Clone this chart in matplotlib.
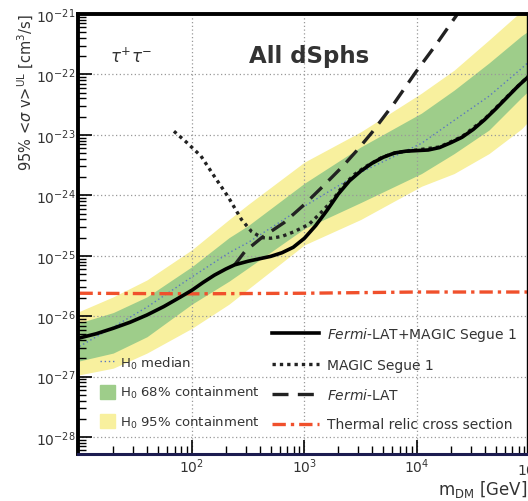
import numpy as np
import matplotlib
matplotlib.use("Agg")
import matplotlib.pyplot as plt
from matplotlib.lines import Line2D
from matplotlib.patches import Patch

plt.rcParams['font.family'] = ['DejaVu Sans']
plt.rcParams['mathtext.fontset'] = 'dejavusans'

# all values are log10(mass / GeV) and log10(<sigma v> / cm^3 s^-1)
band_m = [1.0, 1.3, 1.6, 2.0, 2.33, 2.5, 3.0, 3.5, 4.04, 4.33, 4.64, 4.93, 5.0]
median = [-26.50, -26.18, -25.85, -25.35, -24.95, -24.78, -24.18, -23.62, -23.14, -22.76, -22.36, -21.90, -21.78]
green_hi = [-26.11, -25.94, -25.68, -25.18, -24.70, -24.50, -23.80, -23.20, -22.64, -22.26, -21.81, -21.36, -21.27]
green_lo = [-26.74, -26.61, -26.34, -25.80, -25.42, -25.20, -24.55, -24.12, -23.64, -23.31, -22.92, -22.38, -22.26]
yellow_hi = [-25.92, -25.68, -25.40, -24.90, -24.40, -24.15, -23.45, -22.95, -22.31, -21.93, -21.43, -20.95, -20.85]
yellow_lo = [-26.97, -26.86, -26.61, -26.20, -25.80, -25.55, -24.82, -24.40, -23.85, -23.64, -23.31, -22.90, -22.76]

comb_m = [1.0, 1.15, 1.3, 1.45, 1.6, 1.75, 1.9, 2.0, 2.1, 2.2, 2.3, 2.38, 2.5, 2.6, 2.7, 2.8, 2.9, 3.0,
          3.1, 3.2, 3.3, 3.4, 3.5, 3.6, 3.7, 3.8, 3.9, 4.0, 4.1, 4.2, 4.3, 4.4, 4.5, 4.6, 4.7, 4.8, 4.9, 5.0]
comb_sv = [-26.36, -26.29, -26.20, -26.10, -25.98, -25.84, -25.68, -25.57, -25.44, -25.32, -25.22, -25.15,
           -25.09, -25.05, -25.01, -24.95, -24.86, -24.71, -24.50, -24.25, -23.98, -23.76, -23.60, -23.47,
           -23.37, -23.30, -23.27, -23.26, -23.25, -23.21, -23.13, -23.04, -22.91, -22.75, -22.57, -22.38,
           -22.19, -22.02]

magic_m = [1.84, 1.95, 2.08, 2.20, 2.32, 2.44, 2.53, 2.62, 2.70, 2.80, 2.91, 3.04, 3.15, 3.25, 3.34, 3.44,
           3.54, 3.69, 3.82, 4.0, 4.2, 4.4, 4.6, 4.8, 5.0]
magic_sv = [-22.94, -23.12, -23.35, -23.69, -24.02, -24.40, -24.60, -24.70, -24.71, -24.68, -24.60, -24.48,
            -24.28, -24.08, -23.85, -23.66, -23.53, -23.37, -23.29, -23.25, -23.20, -23.03, -22.74, -22.37,
            -22.01]

fermi_m = [2.38, 2.47, 2.62, 2.82, 3.0, 3.17, 3.34, 3.47, 3.60, 3.80, 3.99, 4.18, 4.36, 4.60]
fermi_sv = [-25.15, -24.93, -24.70, -24.45, -24.15, -23.84, -23.52, -23.25, -22.96, -22.47, -21.96, -21.48,
            -21.0, -20.40]

relic_m = [1.0, 2.0, 3.0, 4.0, 5.0]
relic_sv = [-25.62, -25.63, -25.62, -25.60, -25.60]

x_ticks = [1e2, 1e3, 1e4]
y_ticks = [10.0 ** k for k in range(-28, -20)]

def p(a):
    return 10 ** np.array(a)

fig = plt.figure(figsize=(5.28, 5.02), dpi=100)
ax = fig.add_axes([78 / 528, 47 / 502, 449 / 528, 440 / 502])

ax.fill_between(p(band_m), p(yellow_lo), p(yellow_hi), color='#f8f09e', lw=0)
ax.fill_between(p(band_m), p(green_lo), p(green_hi), color='#9ecd8a', lw=0)
ax.plot(p(band_m), p(median), color='#5b76c0', lw=1.0, ls=(0, (1, 2)))
ax.plot(p(relic_m), p(relic_sv), color='#f0502c', lw=2.4, ls=(0, (4, 1.5, 1, 1.5)))
ax.plot(p(magic_m), p(magic_sv), color='#222222', lw=2.4, ls=(0, (1, 1.2)))
ax.plot(p(fermi_m), p(fermi_sv), color='#222222', lw=2.4, ls=(0, (4.8, 2.8)))
ax.plot(p(comb_m), p(comb_sv), color='black', lw=2.6)

ax.set_xscale('log')
ax.set_yscale('log')
ax.set_xlim(10 ** 0.987, 10 ** 4.978)
ax.set_ylim(10 ** -28.28, 1e-21)
ax.set_xticks(x_ticks)
ax.set_yticks(y_ticks)

ax.grid(True, which='major', color='#999999', lw=0.9, ls=(0, (1, 2)))
ax.tick_params(which='both', direction='in', top=False, right=False, labelsize=10, labelcolor='#333333')
ax.tick_params(which='major', length=10, width=1.2)
ax.tick_params(which='minor', length=6, width=1.0)
ax.tick_params(axis='x', pad=2)
ax.tick_params(axis='y', pad=2)
# the 10^5 label sits just past the right edge, half cut off
ax.text(1e5, -0.012, r'$\mathdefault{10^{5}}$', transform=ax.get_xaxis_transform(), fontsize=10,
        color='#333333', ha='center', va='top', clip_on=False)

ax.spines['left'].set_linewidth(2.8)
ax.spines['top'].set_linewidth(2.8)
ax.spines['bottom'].set_linewidth(2.2)
ax.spines['bottom'].set_color('#1c1c50')
ax.spines['right'].set_linewidth(1.0)

ax.text(0.072, 0.905, r'$\tau^{+}\tau^{-}$', transform=ax.transAxes, fontsize=12, color='#333333',
        ha='left', va='center')
ax.text(0.515, 0.905, 'All dSphs', transform=ax.transAxes, fontsize=16.5, fontweight='bold', color='#333333',
        ha='center', va='center')

fig.text(26 / 528, 1 - 93 / 502, r'95% <$\sigma$ v>$^{\rm UL}$ [cm$^3$/s]', rotation=90, fontsize=10.5,
         color='#333333', ha='center', va='center')
fig.text(527 / 528, 1 - 490 / 502, r'm$_{\rm DM}$ [GeV]', fontsize=12, color='#333333', ha='right', va='center')

h1 = [Line2D([], [], color='#5b76c0', lw=1.0, ls=(0, (1, 2))),
      Patch(color='#9ecd8a'), Patch(color='#f8f09e')]
l1 = ['H$_0$ median', 'H$_0$ 68% containment', 'H$_0$ 95% containment']
leg1 = ax.legend(h1, l1, loc='upper left', bbox_to_anchor=(0.05, 0.225), frameon=False, fontsize=9.5,
                 borderaxespad=0, borderpad=0, handlelength=1.1, handleheight=1.3, handletextpad=0.4,
                 labelspacing=1.0, labelcolor='#333333')
ax.add_artist(leg1)

h2 = [Line2D([], [], color='black', lw=2.6),
      Line2D([], [], color='#222222', lw=2.4, ls=(0, (1, 1.2))),
      Line2D([], [], color='#222222', lw=2.4, ls=(0, (4.8, 2.8))),
      Line2D([], [], color='#f0502c', lw=2.4, ls=(0, (4, 1.5, 1, 1.5)))]
l2 = [r'$\it{Fermi}$-LAT+MAGIC Segue 1', 'MAGIC Segue 1', r'$\it{Fermi}$-LAT', 'Thermal relic cross section']
ax.legend(h2, l2, loc='upper left', bbox_to_anchor=(0.432, 0.294), frameon=False, fontsize=10,
          borderaxespad=0, borderpad=0, handlelength=3.4, handletextpad=0.55, labelspacing=1.1,
          labelcolor='#333333')

fig.savefig('out.png', dpi=100)
